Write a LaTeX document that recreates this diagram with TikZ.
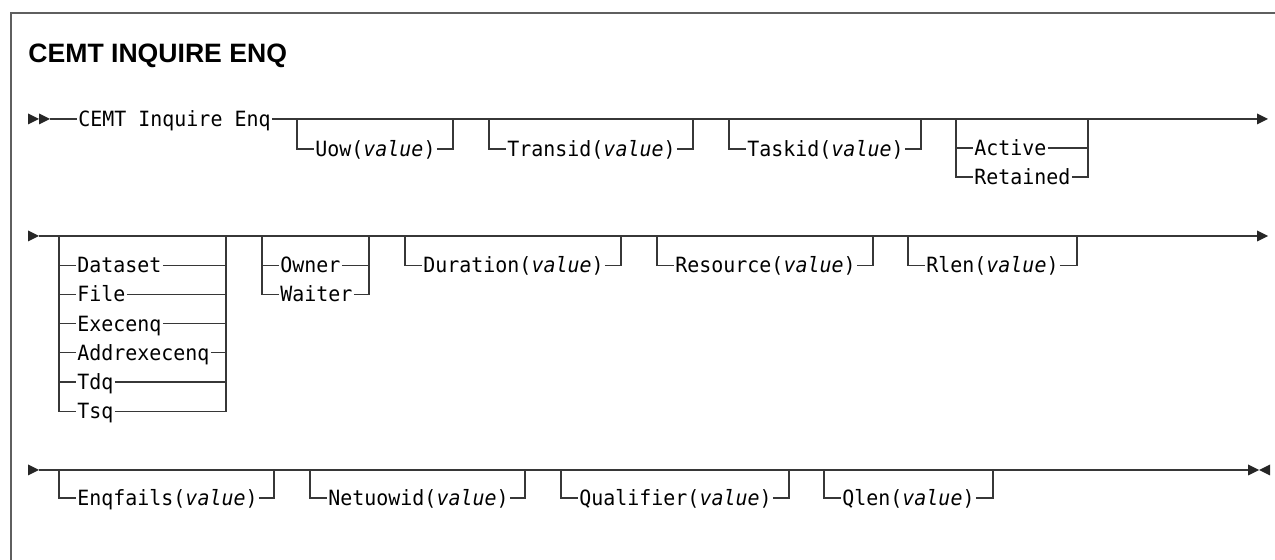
\documentclass[tikz,border=0pt]{standalone}
\usepackage{fontspec}
\setmainfont{Liberation Sans}
\setmonofont[FakeStretch=0.95]{DejaVu Sans Mono}
\usetikzlibrary{positioning, math}
\definecolor{railgray}{RGB}{55,55,55}
\definecolor{framegray}{RGB}{95,95,95}
\tikzset{
  rail/.style={draw=railgray, line width=0.65pt},
  kw/.style={inner sep=0pt, inner xsep=0.5pt, text height=7.6pt, text depth=0pt, anchor=west, font=\ttfamily\fontsize{10.5}{12}\selectfont},
  rtri/.pic={\fill[black!85] (0,-5.5) -- (11,0) -- (0,5.5) -- cycle;},
  ltri/.pic={\fill[black!85] (0,-5.5) -- (-11,0) -- (0,5.5) -- cycle;},
}
\newcommand{\val}{\textit{value}}

\begin{document}
\begin{tikzpicture}[x=0.5pt,y=-0.5pt]
\tikzmath{
\ra=119;
\rb=236;
\rc=470;
\dy=29.2;
}
\useasboundingbox (0,0) rectangle (1275,560);

%the frame:
\draw[framegray, line width=0.75pt] (11,560) -- (11,13) -- (1275,13);
\node[anchor=base west, inner sep=0pt, font=\bfseries\fontsize{13.3}{16}\selectfont] (title) at (28,63) {CEMT INQUIRE ENQ};

%first row:
\pic at (28,\ra) {rtri};
\pic at (39,\ra) {rtri};
\coordinate (s1) at (50,\ra);
\coordinate (e1) at (1257,\ra);
\node[kw] (cemt) at (77,\ra) {CEMT Inquire Enq};
\draw[rail] (s1) -- (cemt.west);
\draw[rail] (cemt.east) -- (e1);
\pic at (e1) {rtri};
\foreach \nm/\xl/\xr/\txt in {uow/297/453/Uow, transid/489/693/Transid, taskid/729/921/Taskid}{
  \coordinate (\nm-a) at (\xl,\ra);
  \coordinate (\nm-b) at (\xr,\ra);
  \node[kw] (\nm) at (\xl+17,\ra+30) {\txt(\val)};
  \draw[rail] (\nm-a) |- (\nm.west);
  \draw[rail] (\nm.east) -| (\nm-b);
}
\coordinate (act-a) at (956,\ra);
\coordinate (act-b) at (1088,\ra);
\node[kw] (active) at (973,148) {Active};
\node[kw] (retained) at (973,177) {Retained};
\draw[rail] (act-a) |- (retained.west);
\draw[rail] (act-a |- active.west) -- (active.west);
\draw[rail] (active.east) -- (act-b |- active.east);
\draw[rail] (retained.east) -| (act-b);

%second row:
\pic at (28,\rb) {rtri};
\coordinate (s2) at (39,\rb);
\coordinate (e2) at (1257,\rb);
\draw[rail] (s2) -- (e2);
\pic at (e2) {rtri};
\coordinate (res-a) at (59,\rb);
\coordinate (res-b) at (226,\rb);
\foreach \nm/\txt [count=\i] in {dataset/Dataset, file/File, execenq/Execenq, addrexecenq/Addrexecenq, tdq/Tdq, tsq/Tsq}{
  \node[kw] (\nm) at (76,\rb+\dy*\i) {\txt};
  \draw[rail] (res-a |- \nm.west) -- (\nm.west);
  \draw[rail] (\nm.east) -- (res-b |- \nm.east);
}
\draw[rail] (res-a) |- (tsq.west);
\draw[rail] (res-b) |- (tsq.east);
\coordinate (own-a) at (262,\rb);
\coordinate (own-b) at (369,\rb);
\node[kw] (owner) at (279,\rb+\dy) {Owner};
\node[kw] (waiter) at (279,\rb+2*\dy) {Waiter};
\draw[rail] (own-a) |- (waiter.west);
\draw[rail] (own-a |- owner.west) -- (owner.west);
\draw[rail] (owner.east) -- (own-b |- owner.east);
\draw[rail] (waiter.east) -| (own-b);
\foreach \nm/\xl/\xr/\txt in {duration/405/621/Duration, resource/657/873/Resource, rlen/908/1077/Rlen}{
  \coordinate (\nm-a) at (\xl,\rb);
  \coordinate (\nm-b) at (\xr,\rb);
  \node[kw] (\nm) at (\xl+17,\rb+\dy) {\txt(\val)};
  \draw[rail] (\nm-a) |- (\nm.west);
  \draw[rail] (\nm.east) -| (\nm-b);
}

%third row:
\pic at (28,\rc) {rtri};
\coordinate (s3) at (39,\rc);
\coordinate (e3) at (1248,\rc);
\draw[rail] (s3) -- (e3);
\pic at (e3) {rtri};
\pic at (1270,\rc) {ltri};
\foreach \nm/\xl/\xr/\txt in {enqfails/59/274/Enqfails, netuowid/310/525/Netuowid, qualifier/561/789/Qualifier, qlen/824/993/Qlen}{
  \coordinate (\nm-a) at (\xl,\rc);
  \coordinate (\nm-b) at (\xr,\rc);
  \node[kw] (\nm) at (\xl+17,\rc+28) {\txt(\val)};
  \draw[rail] (\nm-a) |- (\nm.west);
  \draw[rail] (\nm.east) -| (\nm-b);
}
\end{tikzpicture}
\end{document}
